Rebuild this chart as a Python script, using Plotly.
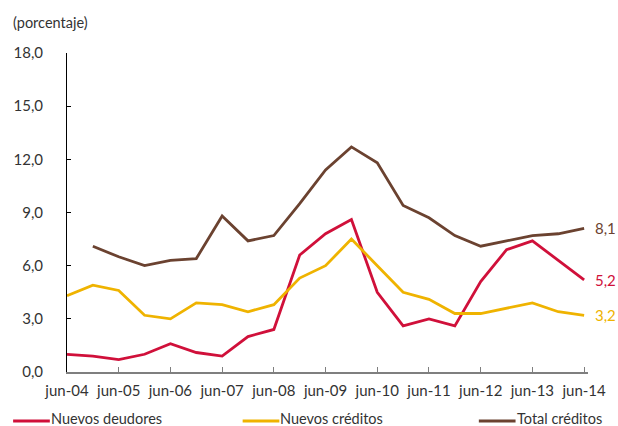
import plotly.graph_objects as go

# Half-year periods from jun-04 to jun-14 (index 0..20)
periods = ["jun-04", "dic-04", "jun-05", "dic-05", "jun-06", "dic-06", "jun-07", "dic-07",
           "jun-08", "dic-08", "jun-09", "dic-09", "jun-10", "dic-10", "jun-11", "dic-11",
           "jun-12", "dic-12", "jun-13", "dic-13", "jun-14"]
tick_labels = ["jun-04", "jun-05", "jun-06", "jun-07", "jun-08", "jun-09",
               "jun-10", "jun-11", "jun-12", "jun-13", "jun-14"]

nuevos_deudores = [1.0, 0.9, 0.7, 1.0, 1.6, 1.1, 0.9, 2.0, 2.4, 6.6, 7.8,
                   8.6, 4.5, 2.6, 3.0, 2.6, 5.1, 6.9, 7.4, 6.3, 5.2]
nuevos_creditos = [4.3, 4.9, 4.6, 3.2, 3.0, 3.9, 3.8, 3.4, 3.8, 5.3, 6.0,
                   7.5, 6.0, 4.5, 4.1, 3.3, 3.3, 3.6, 3.9, 3.4, 3.2]
total_creditos = [None, 7.1, 6.5, 6.0, 6.3, 6.4, 8.8, 7.4, 7.7, 9.5, 11.4,
                  12.7, 11.8, 9.4, 8.7, 7.7, 7.1, 7.4, 7.7, 7.8, 8.1]

RED = "#D0103A"
YELLOW = "#EFB300"
BROWN = "#6B4230"
TEXT = "#333333"
FONT = "Lato"

W, H = 618, 426
ML, MR, MT, MB = 67, 26, 53, 54
PW, PH = W - ML - MR, H - MT - MB


def px_to_paper_x(px):
    return (px - ML) / PW


def px_to_paper_y(py):
    return (H - MB - py) / PH


x = list(range(len(periods)))

fig = go.Figure()
series = [("Nuevos deudores", nuevos_deudores, RED, 12.7),
          ("Nuevos créditos", nuevos_creditos, YELLOW, 244),
          ("Total créditos", total_creditos, BROWN, 482)]
legend_y = px_to_paper_y(421)
for name, vals, color, key_left in series:
    fig.add_trace(go.Scatter(x=x, y=vals, mode="lines", name=name,
                             line=dict(color=color, width=2.8),
                             customdata=periods, cliponaxis=False, showlegend=False,
                             hovertemplate="%{customdata}: %{y:.1f}<extra>" + name + "</extra>"))
    last = vals[-1]
    fig.add_annotation(x=x[-1], y=last, text=f"{last:.1f}".replace(".", ","),
                       showarrow=False, xanchor="left", xshift=9,
                       font=dict(family=FONT, size=15, color=color))
    # legend key: short line followed by the series name
    fig.add_shape(type="line", xref="paper", yref="paper",
                  x0=px_to_paper_x(key_left), x1=px_to_paper_x(key_left + 37),
                  y0=legend_y, y1=legend_y, line=dict(color=color, width=3))
    fig.add_annotation(xref="paper", yref="paper", x=px_to_paper_x(key_left + 38),
                       y=legend_y, text=name, showarrow=False,
                       xanchor="left", yanchor="middle", xshift=-2, yshift=3,
                       font=dict(family=FONT, size=14.5, color=TEXT))

fig.add_annotation(x=0, y=1, xref="paper", yref="paper", xshift=-56, yshift=31,
                   text="(porcentaje)", showarrow=False, xanchor="left", yanchor="middle",
                   font=dict(family=FONT, size=14.5, color=TEXT))

fig.update_layout(
    width=W, height=H,
    margin=dict(l=ML, r=MR, t=MT, b=MB),
    paper_bgcolor="white", plot_bgcolor="white",
    font=dict(family=FONT, size=15, color=TEXT),
    showlegend=False,
)
fig.update_xaxes(range=[0, 20.15], tickmode="array", tickvals=list(range(0, 21, 2)),
                 ticktext=tick_labels, showgrid=False, zeroline=False,
                 showline=True, linecolor="#7F7F7F", linewidth=2,
                 ticks="inside", ticklen=5, tickcolor="#7F7F7F", tickwidth=1,
                 ticklabelstandoff=4,
                 tickfont=dict(family=FONT, size=15, color=TEXT))
fig.update_yaxes(range=[0, 18], tickmode="array", tickvals=[0, 3, 6, 9, 12, 15, 18],
                 ticktext=["0,0", "3,0", "6,0", "9,0", "12,0", "15,0", "18,0"],
                 showgrid=False, zeroline=False,
                 showline=True, linecolor="black", linewidth=1,
                 ticks="inside", ticklen=4, tickcolor="black", tickwidth=1,
                 ticklabelstandoff=20,
                 tickfont=dict(family=FONT, size=15, color=TEXT))

fig.write_html("out.html")
